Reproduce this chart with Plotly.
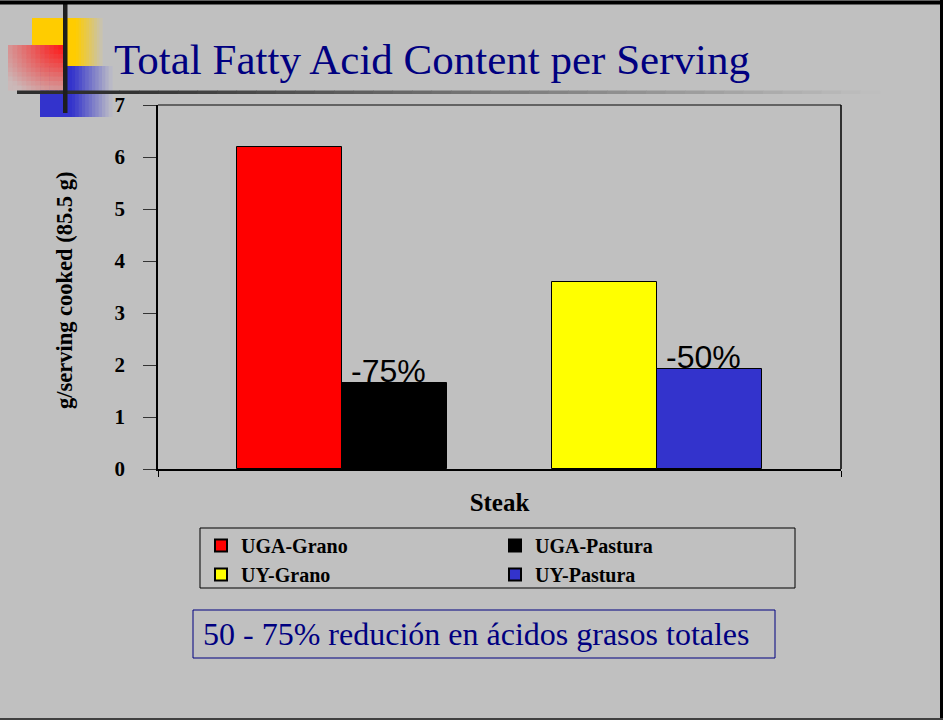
import plotly.graph_objects as go

# ---------------- data ----------------
categories = ["Steak"]
series_names = ["UGA-Grano", "UGA-Pastura", "UY-Grano", "UY-Pastura"]
uga_grano = [6.2]
uga_pastura = [1.65]
uy_grano = [3.6]
uy_pastura = [1.92]
change_labels = ["", "-75%", "", "-50%"]
y_tick_values = [0, 1, 2, 3, 4, 5, 6, 7]
title_text = "Total Fatty Acid Content per Serving"
y_title_text = "g/serving cooked (85.5 g)"
note_text = "50 - 75% redución en ácidos grasos totales"

series_values = [uga_grano, uga_pastura, uy_grano, uy_pastura]

# ---------------- styling ----------------
W, H = 943, 720
L, R, T, B = 158, 841, 105, 469          # plot area box in pixels
BG = "#C0C0C0"
NAVY = "#000080"
SERIF = "Liberation Serif"
SANS = "Liberation Sans"
bar_colors = ["#FF0000", "#000000", "#FFFF00", "#3333CC"]
slots = [0, 1, 3, 4]                      # 5-slot cluster, middle slot empty
n_slots = 5
slot_w = 105 / (R - L)
group_start = -n_slots * slot_w / 2


def px(x):
    return (x - L) / (R - L)


def py(y):
    return (B - y) / (B - T)


def hexc(c):
    c = c.lstrip("#")
    return [int(c[i:i + 2], 16) for i in (0, 2, 4)]


def lerp(c0, c1, t):
    a, b = hexc(c0), hexc(c1)
    t = max(0.0, min(1.0, t))
    return "rgb(%d,%d,%d)" % tuple(round(a[i] + (b[i] - a[i]) * t) for i in range(3))


shapes = []


def rect(x0, y0, x1, y1, color):
    shapes.append(dict(type="rect", xref="paper", yref="paper",
                       x0=px(x0), x1=px(x1), y0=py(y1), y1=py(y0),
                       fillcolor=color, line=dict(width=0), layer="above"))


def hgrad(x0, x1, y0, y1, c0, c1, n):
    step = (x1 - x0) / n
    for i in range(n):
        rect(x0 + i * step, y0, x0 + (i + 1) * step + 0.6, y1, lerp(c0, c1, (i + 0.5) / n))


# decorative blocks
rect(32, 18, 76, 66, "#FFCC00")
hgrad(76, 102, 18, 66, "#FFCC00", "#C6C3B6", 10)
rect(40, 66, 72, 117, "#3333CC")
hgrad(72, 112, 66, 117, "#3333CC", "#BFBFC6", 12)
nx, ny = 12, 10
for i in range(nx):
    for j in range(ny):
        x0 = 8 + i * 55 / nx
        y0 = 45 + j * 45 / ny
        dx = (63 - (x0 + 55 / nx / 2)) / 55
        dy = ((y0 + 45 / ny / 2) - 45) / 45
        t = ((dx ** 2 + dy ** 2) ** 0.5) / 1.25
        rect(x0, y0, x0 + 55 / nx + 0.6, y0 + 45 / ny + 0.6, lerp("#FF1414", "#CBB8B8", t))
# lines
rect(17, 90.5, 100, 94, "#2E2E2E")
hgrad(100, 880, 90.5, 94, "#2E2E2E", BG, 40)
rect(63, 3, 67.5, 113, "#1E1E1E")

# slide border
shapes.append(dict(type="line", xref="paper", yref="paper", x0=px(0), x1=px(943),
                   y0=py(2.5), y1=py(2.5), line=dict(color="#000000", width=4)))
shapes.append(dict(type="line", xref="paper", yref="paper", x0=px(941.5), x1=px(941.5),
                   y0=py(0), y1=py(720), line=dict(color="#000000", width=3)))
shapes.append(dict(type="line", xref="paper", yref="paper", x0=px(0), x1=px(943),
                   y0=py(719), y1=py(719), line=dict(color="#404040", width=2)))
# plot frame top and right
shapes.append(dict(type="line", xref="paper", yref="paper", x0=0, x1=1, y0=1, y1=1,
                   line=dict(color="#444444", width=1.5)))
shapes.append(dict(type="line", xref="paper", yref="paper", x0=1, x1=1, y0=0, y1=1,
                   line=dict(color="#000000", width=1.5)))
# legend frame
shapes.append(dict(type="rect", xref="paper", yref="paper", x0=px(200), x1=px(795),
                   y0=py(588), y1=py(528), line=dict(color="#000000", width=1),
                   fillcolor="rgba(0,0,0,0)", layer="below"))
# note frame
shapes.append(dict(type="rect", xref="paper", yref="paper", x0=px(193), x1=px(775),
                   y0=py(658), y1=py(610), line=dict(color=NAVY, width=1),
                   fillcolor="rgba(0,0,0,0)"))

fig = go.Figure()
for name, vals, col, s in zip(series_names, series_values, bar_colors, slots):
    fig.add_trace(go.Bar(
        x=categories, y=vals, name=name,
        marker=dict(color=col, line=dict(color="#000000", width=1)),
        width=slot_w, offset=group_start + s * slot_w,
    ))

annotations = []
for lab, vals, s in zip(change_labels, series_values, slots):
    if lab:
        annotations.append(dict(
            x=group_start + (s + 0.5) * slot_w, y=vals[0], xref="x", yref="y",
            text=lab, showarrow=False, yanchor="bottom", xshift=-6, yshift=-8,
            font=dict(family=SANS, size=32, color="#000000")))

annotations.append(dict(
    x=px(112), y=py(59), xref="paper", yref="paper", xanchor="left", yanchor="middle",
    text=title_text, showarrow=False, font=dict(family=SERIF, size=43, color=NAVY)))

annotations.append(dict(
    x=px(201), y=py(634), xref="paper", yref="paper", xanchor="left", yanchor="middle",
    text=note_text, showarrow=False, align="left",
    font=dict(family=SERIF, size=32, color=NAVY)))

annotations.append(dict(
    x=px(64), y=py(291), xref="paper", yref="paper", xanchor="center", yanchor="middle",
    text=y_title_text, textangle=-90, showarrow=False,
    font=dict(family=SERIF, size=22.5, color="#000000", weight="bold")))

fig.update_layout(
    width=W, height=H,
    margin=dict(l=L, r=W - R, t=T, b=H - B, pad=0),
    paper_bgcolor=BG, plot_bgcolor=BG,
    showlegend=True,
    legend=dict(
        orientation="h", x=px(201), y=py(526), xanchor="left", yanchor="top",
        entrywidth=249, entrywidthmode="pixels",
        bgcolor="rgba(0,0,0,0)", borderwidth=0,
        font=dict(family=SERIF, size=20, color="#000000", weight="bold"),
        traceorder="normal", itemsizing="constant",
    ),
    xaxis=dict(
        type="category", range=[-0.5, 0.5], showline=True, linecolor="#000000", linewidth=1.5,
        ticks="outside", tickson="boundaries", ticklen=6, tickcolor="#000000",
        showgrid=False, zeroline=False, ticklabelstandoff=10,
        tickfont=dict(family=SERIF, size=25, color="#000000", weight="bold"),
    ),
    yaxis=dict(
        range=[0, 7], tickvals=y_tick_values, showline=True, linecolor="#000000", linewidth=1.5,
        ticks="outside", ticklen=13, tickcolor="#333333", showgrid=False, zeroline=False,
        ticklabelstandoff=14,
        tickfont=dict(family=SERIF, size=21, color="#000000", weight="bold"),
    ),
    shapes=shapes,
    annotations=annotations,
    bargap=0,
)

fig.write_html(
    "out.html",
    config={"displayModeBar": False},
    post_script="document.body.style.margin='0';document.body.style.overflow='hidden';",
)
